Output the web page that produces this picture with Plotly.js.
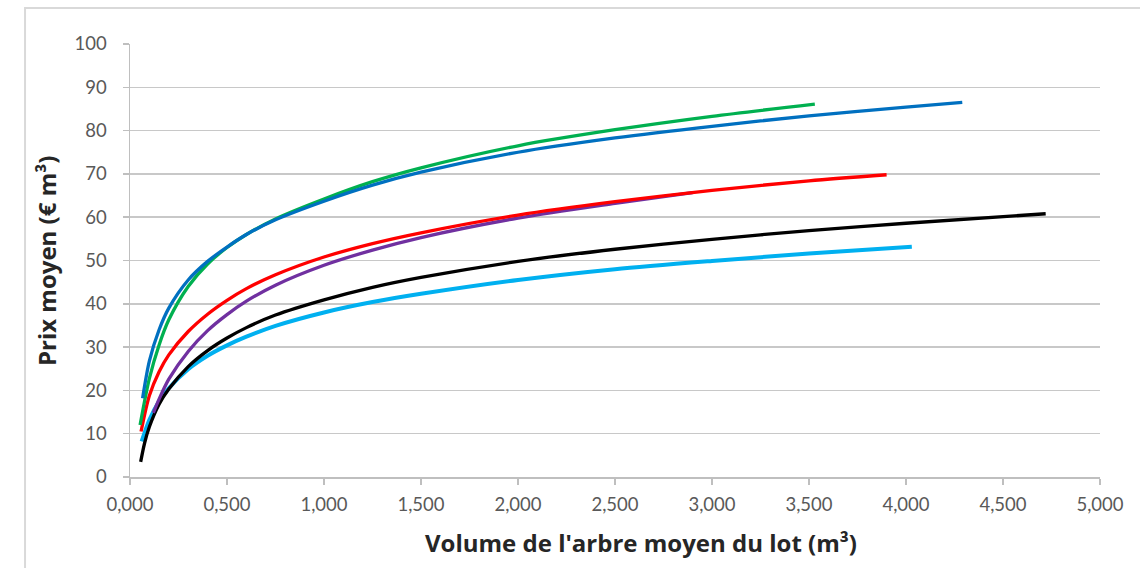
<!DOCTYPE html>
<html>
<head>
<meta charset="utf-8">
<script src="https://cdn.plot.ly/plotly-3.0.1.min.js"></script>
<style>
html,body{margin:0;padding:0;background:#fff;}
#chart{width:1140px;height:568px;}
</style>
</head>
<body>
<div id="chart"></div>
<script>
// Series (x = volume m³, y = prix €/m³)
const greenX = [0.052, 0.075, 0.1, 0.15, 0.2, 0.3, 0.4, 0.5, 0.6, 0.75, 1.0, 1.25, 1.5, 2.0, 2.5, 3.0, 3.53];
const greenY = [12.0, 17.5, 22.8, 30.5, 36.3, 44.0, 49.2, 53.0, 56.0, 59.6, 64.2, 68.2, 71.4, 76.5, 80.2, 83.3, 86.1];

const blueX = [0.065, 0.1, 0.15, 0.2, 0.3, 0.4, 0.5, 0.6, 0.75, 1.0, 1.25, 1.5, 2.0, 2.5, 3.0, 3.5, 4.0, 4.29];
const blueY = [18.2, 26.8, 34.0, 39.0, 45.5, 49.8, 53.1, 56.0, 59.4, 63.7, 67.4, 70.4, 75.0, 78.3, 81.0, 83.4, 85.4, 86.5];

const redX = [0.057, 0.1, 0.15, 0.2, 0.3, 0.4, 0.5, 0.6, 0.75, 1.0, 1.25, 1.5, 2.0, 2.5, 3.0, 3.5, 3.9];
const redY = [10.5, 18.8, 24.3, 28.2, 33.6, 37.6, 40.8, 43.5, 46.7, 50.8, 53.9, 56.4, 60.5, 63.6, 66.2, 68.4, 69.8];

const purpleX = [0.12, 0.15, 0.2, 0.3, 0.4, 0.5, 0.6, 0.75, 1.0, 1.25, 1.5, 2.0, 2.5, 2.9];
const purpleY = [14.8, 18.0, 22.6, 29.0, 33.8, 37.5, 40.6, 44.3, 48.9, 52.4, 55.3, 59.8, 63.2, 65.7];

const blackX = [0.055, 0.075, 0.1, 0.15, 0.2, 0.3, 0.4, 0.5, 0.6, 0.75, 1.0, 1.25, 1.5, 2.0, 2.5, 3.0, 3.5, 4.0, 4.72];
const blackY = [3.5, 7.8, 11.6, 16.8, 20.3, 25.5, 29.2, 32.1, 34.5, 37.4, 40.9, 43.8, 46.1, 49.8, 52.6, 54.9, 56.9, 58.6, 60.8];

const lightX = [0.06, 0.1, 0.15, 0.2, 0.3, 0.4, 0.5, 0.6, 0.75, 1.0, 1.25, 1.5, 2.0, 2.5, 3.0, 3.5, 4.03];
const lightY = [8.2, 13.2, 17.5, 20.5, 24.9, 28.0, 30.4, 32.4, 34.9, 38.0, 40.4, 42.3, 45.5, 48.0, 49.9, 51.6, 53.2];

const xTickVals = [0, 0.5, 1, 1.5, 2, 2.5, 3, 3.5, 4, 4.5, 5];
const xTickText = ["0,000","0,500","1,000","1,500","2,000","2,500","3,000","3,500","4,000","4,500","5,000"];
const yTickVals = [0,10,20,30,40,50,60,70,80,90,100];

const xTitle = "Volume de l'arbre moyen du lot (m³)";
const yTitle = "Prix moyen (€ m³)";

function tr(x, y, color, w) {
  return {x: x, y: y, type: 'scatter', mode: 'lines',
    line: {color: color, width: w, shape: 'spline', smoothing: 0.8},
    hoverinfo: 'skip', showlegend: false};
}

const data = [
  tr(lightX, lightY, '#00B0F0', 4),
  tr(blackX, blackY, '#000000', 3.3),
  tr(purpleX, purpleY, '#7030A0', 3.3),
  tr(redX, redY, '#FF0000', 3.3),
  tr(greenX, greenY, '#00B050', 3.3),
  tr(blueX, blueY, '#0070C0', 3.3)
];

const FONT = 'Lato, "Open Sans", sans-serif';
const TFONT = '"Open Sans", Lato, sans-serif';

const layout = {
  width: 1140, height: 568,
  margin: {l: 130, r: 40, t: 44, b: 91, pad: 0},
  paper_bgcolor: '#ffffff', plot_bgcolor: '#ffffff',
  font: {family: FONT, color: '#595959', size: 18},
  xaxis: {
    range: [0, 5], tickvals: xTickVals, ticktext: xTickText,
    showgrid: false, zeroline: false,
    showline: true, linecolor: '#bfbfbf', linewidth: 1.5,
    ticks: 'outside', ticklen: 6, tickcolor: '#bfbfbf', tickwidth: 1.5,
    tickfont: {family: FONT, size: 18.5, color: '#595959'},
    ticklabelstandoff: 4
  },
  yaxis: {
    range: [0, 100], tickvals: yTickVals,
    showgrid: true, gridcolor: '#c8c8c8', gridwidth: 1.5,
    zeroline: false,
    showline: true, linecolor: '#bfbfbf', linewidth: 1.5,
    ticks: 'outside', ticklen: 6, tickcolor: '#bfbfbf', tickwidth: 1.5,
    tickfont: {family: FONT, size: 18.5, color: '#595959'},
    ticklabelstandoff: 12
  },
  shapes: [{
    type: 'rect', xref: 'paper', yref: 'paper',
    x0: -0.1082, x1: 1.1, y0: -0.3, y1: 1.0831,
    line: {color: '#d9d9d9', width: 2}, fillcolor: 'rgba(0,0,0,0)', layer: 'below'
  }],
  annotations: [
    {text: '<b>' + xTitle + '</b>', xref: 'paper', yref: 'paper',
     x: 0.527, y: -0.152, xanchor: 'center', yanchor: 'middle', showarrow: false,
     font: {family: TFONT, size: 24, color: '#262626'}},
    {text: '<b>' + yTitle + '</b>', xref: 'paper', yref: 'paper',
     x: -0.086, y: 0.5, xanchor: 'center', yanchor: 'middle', showarrow: false, textangle: -90,
     font: {family: TFONT, size: 24, color: '#262626'}}
  ]
};

Plotly.newPlot('chart', data, layout, {displayModeBar: false, staticPlot: true});
</script>
</body>
</html>
